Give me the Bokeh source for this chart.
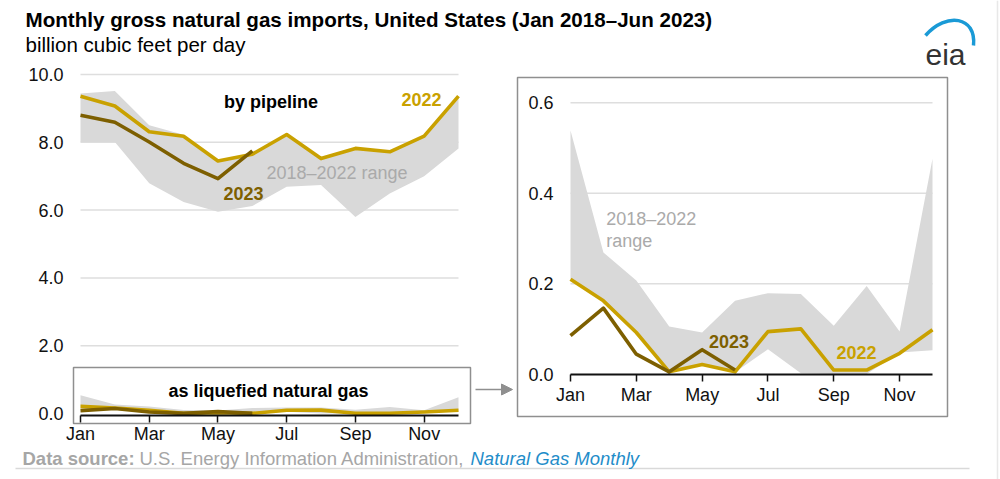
from bokeh.plotting import figure
from bokeh.models import (Range1d, FixedTicker, NumeralTickFormatter, Label,
                          LinearAxis, Arrow, NormalHead)
from bokeh.embed import file_html
from bokeh.resources import INLINE

# ---------------- data ----------------
months = list(range(1, 13))
months_2023 = list(range(1, 7))
tick_months = [1, 3, 5, 7, 9, 11]
tick_labels = ["Jan", "Mar", "May", "Jul", "Sep", "Nov"]

pipe_2022 = [9.36, 9.07, 8.31, 8.18, 7.45, 7.65, 8.23, 7.52, 7.82, 7.72, 8.18, 9.36]
pipe_2023 = [8.80, 8.59, 8.01, 7.38, 6.93, 7.75]
pipe_hi = [9.44, 9.51, 8.50, 8.22, 7.45, 7.65, 8.23, 7.52, 7.82, 7.72, 8.18, 9.36]
pipe_lo = [8.01, 8.01, 6.79, 6.24, 5.95, 6.12, 6.69, 6.74, 5.80, 6.49, 7.00, 7.82]

lng_2022 = [0.210, 0.162, 0.092, 0.005, 0.021, 0.005, 0.094, 0.100, 0.009, 0.009, 0.046, 0.098]
lng_2023 = [0.085, 0.146, 0.044, 0.005, 0.054, 0.009]
lng_hi = [0.539, 0.269, 0.207, 0.105, 0.092, 0.162, 0.179, 0.177, 0.107, 0.195, 0.094, 0.476]
lng_lo = [0.210, 0.162, 0.092, 0.005, 0.020, 0.004, 0.055, 0.002, 0.000, 0.000, 0.048, 0.053]

left_yticks = [0, 2, 4, 6, 8, 10]
right_yticks = [0, 0.2, 0.4, 0.6]

# ---------------- style ----------------
FONT = "Liberation Sans"
GOLD = "#c9a100"
DARK = "#7d5f00"
BAND = "#d9d9d9"
GRID = "#dedede"
RANGE_TXT = "#aaaaaa"
INK = "#111111"
BOX = "#8f8f8f"
LW = 3.6

W, H = 1000, 479


# ---------------- layout helpers (pixel anchors -> ranges) ----------------
def xr_from(px_a, va, px_b, vb):
    k = (vb - va) / (px_b - px_a)
    return Range1d(start=va - px_a * k, end=va + (W - px_a) * k)


def yr_from(py_a, va, py_b, vb):
    k = (vb - va) / (py_b - py_a)
    return Range1d(start=va + (H - py_a) * k, end=va - py_a * k)


def px_to_val(p, pa, va, pb, vb):
    return va + (p - pa) * (vb - va) / (pb - pa)


# left chart anchors: Jan at x=80, Dec at x=458; 10.0 at y=74, 0.0 at y=413
L_X = (80, 1, 458, 12)
L_Y = (413, 0, 74, 10)
# right chart anchors: Jan at x=570, Dec at x=932; 0.6 at y=102.3, 0.0 at y=373.6
R_X = (570, 1, 932, 12)
R_Y = (373.6, 0, 102.3, 0.6)

p = figure(width=W, height=H, x_range=Range1d(0, W), y_range=Range1d(H, 0),
           output_backend="svg", toolbar_location=None, title=None,
           x_axis_type=None, y_axis_type=None, min_border=0,
           outline_line_color=None)
p.extra_x_ranges = {"lx": xr_from(*L_X), "rx": xr_from(*R_X)}
p.extra_y_ranges = {"ly": yr_from(*L_Y), "ry": yr_from(*R_Y)}


def add_axes(xn, yn, x_loc, y_loc, yticks, x_standoff):
    xa = LinearAxis(x_range_name=xn, y_range_name=yn, fixed_location=x_loc,
                    ticker=FixedTicker(ticks=tick_months),
                    major_label_overrides=dict(zip(tick_months, tick_labels)),
                    bounds=(1, 12))
    xa.axis_line_color = INK
    xa.axis_line_width = 2
    xa.major_tick_line_color = INK
    xa.major_tick_line_width = 1.5
    xa.major_tick_out = 7
    xa.major_tick_in = 0
    xa.minor_tick_line_color = None
    xa.major_label_text_font = FONT
    xa.major_label_text_font_size = "18px"
    xa.major_label_text_color = INK
    xa.major_label_standoff = x_standoff
    p.add_layout(xa, "below")
    ya = LinearAxis(x_range_name=xn, y_range_name=yn, fixed_location=y_loc,
                    ticker=FixedTicker(ticks=yticks),
                    formatter=NumeralTickFormatter(format="0.0"))
    ya.axis_line_color = None
    ya.major_tick_line_color = None
    ya.major_tick_out = 0
    ya.major_tick_in = 0
    ya.minor_tick_line_color = None
    ya.major_label_text_font = FONT
    ya.major_label_text_font_size = "18px"
    ya.major_label_text_color = INK
    ya.major_label_standoff = 7
    p.add_layout(ya, "left")


def label(x, y, text, color, bold=False, align="center", size="18px",
          xn="default", yn="default", baseline="middle", style=None):
    p.add_layout(Label(x=x, y=y, x_range_name=xn, y_range_name=yn, text=text,
                       text_font=FONT, text_font_size=size,
                       text_font_style=style or ("bold" if bold else "normal"),
                       text_color=color, text_align=align, text_baseline=baseline))


# ---------------- header ----------------
label(25, 19, "Monthly gross natural gas imports, United States (Jan 2018\u2013Jun 2023)",
      "#000000", bold=True, align="left", size="20.6px")
label(25, 44, "billion cubic feet per day", "#000000", align="left", size="20.5px")
label(925, 54, "eia", "#333333", align="left", size="30px", baseline="alphabetic")
p.bezier(x0=[925], y0=[35], x1=[973], y1=[45], cx0=[946], cy0=[11], cx1=[976], cy1=[16],
         line_color="#1a9ad6", line_width=3.5)

# ---------------- left chart (by pipeline + LNG on same scale) ----------------
lk = dict(x_range_name="lx", y_range_name="ly")
grid_l = [v for v in left_yticks if v > 0]
p.segment(x0=[1] * len(grid_l), x1=[12] * len(grid_l), y0=grid_l, y1=grid_l,
          line_color=GRID, line_width=1.5, **lk)
p.varea(x=months, y1=pipe_lo, y2=pipe_hi, fill_color=BAND, **lk)
p.varea(x=months, y1=lng_lo, y2=lng_hi, fill_color=BAND, **lk)
p.line(months, lng_2022, line_color=GOLD, line_width=LW, line_join="round", **lk)
p.line(months_2023, lng_2023, line_color=DARK, line_width=LW, line_join="round", **lk)
p.line(months, pipe_2022, line_color=GOLD, line_width=LW, line_join="round", **lk)
p.line(months_2023, pipe_2023, line_color=DARK, line_width=LW, line_join="round", **lk)

add_axes("lx", "ly",
         px_to_val(415, L_Y[0], L_Y[1], L_Y[2], L_Y[3]),
         px_to_val(70, L_X[0], L_X[1], L_X[2], L_X[3]),
         left_yticks, 1)

label(6.544, 9.18, "by pipeline", "#000000", bold=True, xn="lx", yn="ly")
label(10.923, 9.25, "2022", GOLD, bold=True, xn="lx", yn="ly")
label(5.743, 6.49, "2023", DARK, bold=True, xn="lx", yn="ly")
label(8.464, 7.09, "2018\u20132022 range", RANGE_TXT, xn="lx", yn="ly")
label(6.471, 0.678, "as liquefied natural gas", "#000000", bold=True, xn="lx", yn="ly")

# inset frame around the LNG part of the left chart
p.quad(left=[73], right=[470], top=[367], bottom=[423], fill_color=None,
       line_color=BOX, line_width=1.5)

# ---------------- right chart (LNG detail) ----------------
rk = dict(x_range_name="rx", y_range_name="ry")
grid_r = [v for v in right_yticks if v > 0]
p.segment(x0=[1] * len(grid_r), x1=[12] * len(grid_r), y0=grid_r, y1=grid_r,
          line_color=GRID, line_width=1.5, **rk)
p.varea(x=months, y1=lng_lo, y2=lng_hi, fill_color=BAND, **rk)
p.line(months, lng_2022, line_color=GOLD, line_width=LW, line_join="round", **rk)
p.line(months_2023, lng_2023, line_color=DARK, line_width=LW, line_join="round", **rk)

add_axes("rx", "ry", 0,
         px_to_val(560, R_X[0], R_X[1], R_X[2], R_X[3]),
         right_yticks, 4)

label(2.085, 0.342, "2018\u20132022", RANGE_TXT, align="left", xn="rx", yn="ry")
label(2.085, 0.295, "range", RANGE_TXT, align="left", xn="rx", yn="ry")
label(5.816, 0.0728, "2023", DARK, bold=True, xn="rx", yn="ry")
label(9.691, 0.0484, "2022", GOLD, bold=True, xn="rx", yn="ry")

p.quad(left=[517], right=[947], top=[77], bottom=[416], fill_color=None,
       line_color=BOX, line_width=1.5)
p.add_layout(Arrow(x_start=475, y_start=389, x_end=512, y_end=389,
                   line_color=BOX, line_width=1.5,
                   end=NormalHead(size=11, fill_color=BOX, line_color=BOX)))

# ---------------- footer ----------------
label(22, 458, "Data source:", "#a6a6a6", bold=True, align="left", size="18.5px")
label(139, 458, "U.S. Energy Information Administration,", "#a6a6a6", align="left", size="18.5px")
label(470, 458, "Natural Gas Monthly", "#1f8dc9", align="left", size="18.5px", style="italic")
p.segment(x0=[15], x1=[969], y0=[468], y1=[468], line_color="#d9d9d9", line_width=1.5)
p.segment(x0=[997], x1=[997], y0=[0], y1=[H], line_color="#e8e8e8", line_width=1.5)

open("out.html", "w").write(file_html(p, INLINE))
